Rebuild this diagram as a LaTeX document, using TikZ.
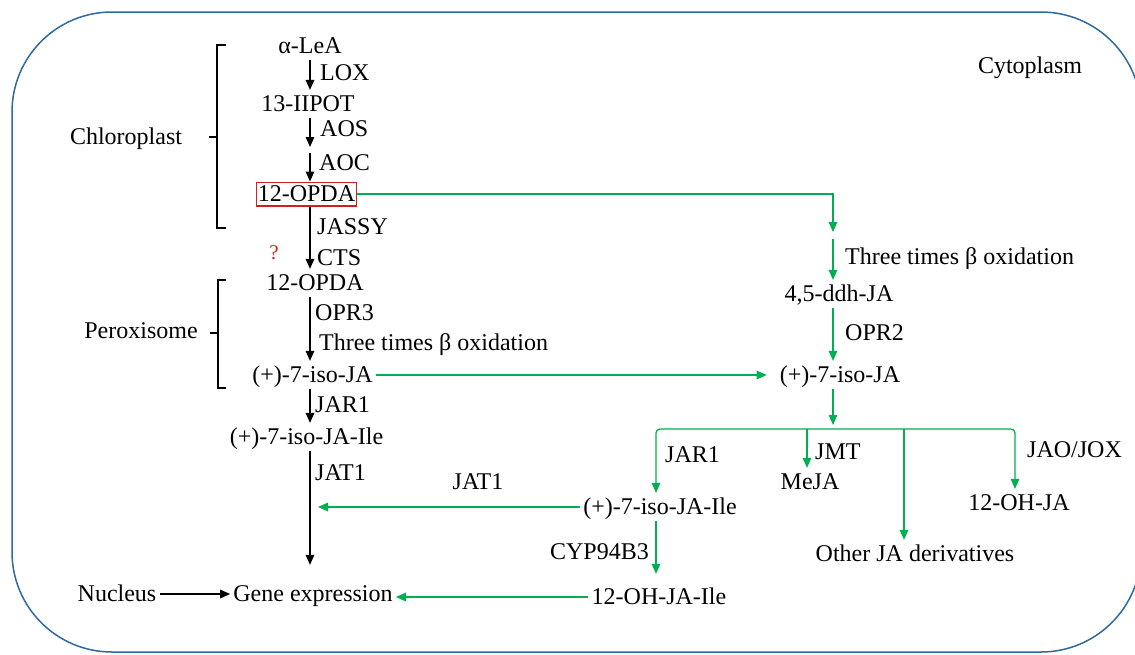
\documentclass[tikz,border=0pt]{standalone}
\usepackage{fontspec}
\setmainfont{Liberation Serif}
\usetikzlibrary{arrows.meta}
\definecolor{gr}{RGB}{0,176,80}
\definecolor{cellblue}{RGB}{46,105,160}
\definecolor{qred}{RGB}{210,30,30}
\newcommand{\fs}{\fontsize{24}{28}\selectfont}
\begin{document}
\begin{tikzpicture}[x=1pt,y=-1pt,
 txt/.style={font=\fs, text height=15.8pt, text depth=0pt, inner xsep=3pt, inner ysep=6pt},
 lbl/.style={txt, inner sep=0pt, anchor=west},
 arr/.style={-{Triangle[length=10pt,width=8.5pt]}, line width=1.3pt},
 garr/.style={arr, draw=gr, color=gr},
 brk/.style={line width=1.3pt},
 ]
\useasboundingbox (0,0) rectangle (1135,654);
\begin{scope}
\clip (0,0) rectangle (1135,654);
\draw[cellblue, line width=1.5pt, rounded corners=100pt] (12,12) rectangle (1141,652);
\end{scope}

% compartment labels and brackets
\node[txt] (chl) at (126,137) {Chloroplast};
\node[txt] (per) at (141,331) {Peroxisome};
\node[txt] (cyt) at (1030,66) {Cytoplasm};
\draw[brk] (226,45) -- (217,45) -- (217,228) -- (226,228);
\draw[brk] (217,137) -- (209,137);
\draw[brk] (226,280) -- (218,280) -- (218,388) -- (226,388);
\draw[brk] (218,333) -- (210,333);

% left column
\coordinate (colL) at (310,0);
\node[txt] (alea) at (310,46) {α-LeA};
\node[txt] (hpot) at (308,104) {13-IIPOT};
\coordinate (eot) at (310,150);
\node[txt, draw=qred, line width=1.2pt, inner xsep=1.5pt, inner ysep=4pt] (opda1) at (306.5,194) {12-OPDA};
\node[txt] (opda2) at (315,283) {12-OPDA};
\node[txt] (iso1) at (312.5,375) {(+)-7-iso-JA};
\node[txt] (ile1) at (306.5,437) {(+)-7-iso-JA-Ile};
\node[txt] (gene) at (313,594) {Gene expression};
\node[txt] (nuc) at (117,594) {Nucleus};

\draw[arr] (alea.south -| colL) -- (hpot.north -| colL);
\draw[arr, shorten >=3pt] (hpot.south -| colL) -- (eot);
\draw[arr, shorten <=3pt] (eot) -- (opda1.north -| colL);
\draw[arr] (opda1.south -| colL) -- (opda2.north -| colL);
\draw[arr] (opda2.south -| colL) -- (iso1.north -| colL);
\draw[arr] (iso1.south -| colL) -- (ile1.north -| colL);
\draw[arr, shorten >=15pt] (ile1.south -| colL) -- (gene.north -| colL);
\draw[arr] (nuc) -- (gene);

\node[lbl] (lox) at (320,73) {LOX};
\node[lbl] (aos) at (320,129) {AOS};
\node[lbl] (aoc) at (319,163) {AOC};
\node[lbl] (jassy) at (317,227) {JASSY};
\node[lbl] (cts) at (317,258) {CTS};
\node[txt, text=qred, inner sep=0pt, font=\fontsize{21}{24}\selectfont] (q) at (274,252) {?};
\node[lbl] (opr3) at (315,313) {OPR3};
\node[lbl] (beta1) at (319,343) {Three times β oxidation};
\node[lbl] (jar1a) at (315,405) {JAR1};
\node[lbl] (jat1a) at (315,473) {JAT1};

% right column
\coordinate (colR) at (833,0);
\coordinate (turn) at (833,235);
\coordinate (br) at (833,429);
\coordinate (jarX) at (656,0);
\coordinate (joxX) at (1015,0);
\coordinate (bMe) at (807,429);
\coordinate (bOt) at (904,429);
\node[txt] (ddh) at (839,294) {4,5-ddh-JA};
\node[txt] (iso2) at (840,375) {(+)-7-iso-JA};
\node[txt] (ile2) at (660,507) {(+)-7-iso-JA-Ile};
\node[txt] (meja) at (810,482) {MeJA};
\node[txt] (other) at (915,554) {Other JA derivatives};
\node[txt] (ohja) at (1019,503) {12-OH-JA};
\node[txt] (ohile) at (659,597) {12-OH-JA-Ile};

\draw[garr, shorten >=3pt] (opda1.east) -| (turn);
\draw[garr, shorten <=4pt] (turn) -- (ddh.north -| colR);
\draw[garr] (ddh.south -| colR) -- (iso2.north -| colR);
\draw[garr, shorten >=10pt] (iso1.east) -- (iso2.west);
\draw[garr, shorten >=4pt] (iso2.south -| colR) -- (br);
\draw[garr, rounded corners=4pt] (br) -| (ile2.north -| jarX);
\draw[garr, rounded corners=4pt] (br) -| (ohja.north -| joxX);
\draw[garr] (bMe) -- (meja.north -| bMe);
\draw[garr] (bOt) -- (other.north -| bOt);
\draw[garr, shorten >=9pt] (ile2.south -| jarX) -- (ohile.north -| jarX);
\draw[garr, shorten >=8pt] (ile2.west) -- (ile2.west -| colL);
\draw[garr] (ohile.west) -- (ohile.west -| gene.east);

\node[lbl] (beta2) at (845,257) {Three times β oxidation};
\node[lbl] (opr2) at (845,333) {OPR2};
\node[lbl] (jar1b) at (665,455) {JAR1};
\node[lbl] (jmt) at (815,452) {JMT};
\node[lbl] (jao) at (1027,450) {JAO/JOX};
\node[lbl, anchor=east] (cyp) at (649,552) {CYP94B3};
\node[txt, inner sep=0pt] (jat1b) at (478,482) {JAT1};
\end{tikzpicture}
\end{document}
